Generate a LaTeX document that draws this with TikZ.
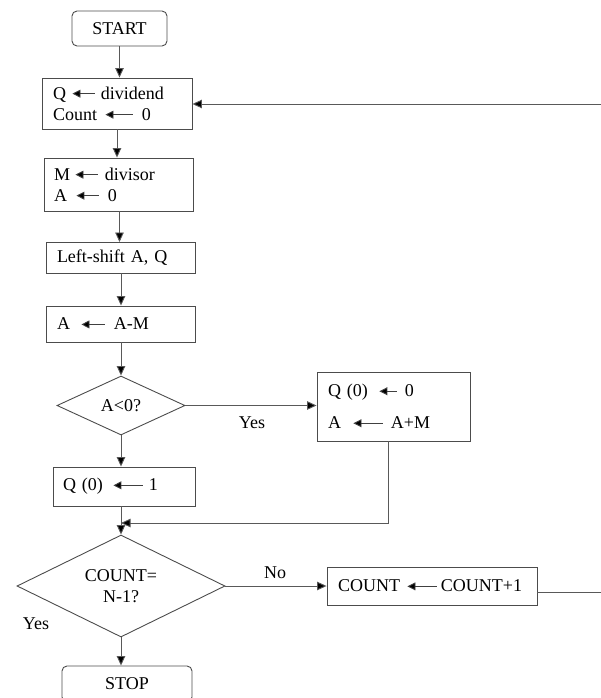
\documentclass[tikz,border=0pt]{standalone}
\usepackage{fontspec}
\setmainfont{Liberation Serif}
\usetikzlibrary{shapes.geometric,arrows.meta}
\newcommand\la[3]{\hspace*{#1pt}\tikz[baseline=-5.5pt]\draw[line width=0.9pt,draw=black!75,{Triangle[length=8pt,width=8pt,fill=black]}-](0pt,0pt)--(#2pt,0pt);\hspace*{#3pt}}
\begin{document}
\begin{tikzpicture}[x=1pt,y=-1pt,
  every node/.style={font=\fontsize{18}{21}\selectfont},
  box/.style={draw=black!70,line width=0.9pt,rectangle,align=left,inner ysep=0pt},
  term/.style={draw=black!70,line width=0.9pt,rectangle,rounded corners=5pt,inner sep=0pt},
  dia/.style={draw=black!70,line width=0.9pt,diamond,aspect=2,inner sep=0pt,align=center},
  conn/.style={draw=black!65,line width=0.9pt,-{Triangle[length=9.5pt,width=8.5pt,fill=black]}},
  plain/.style={draw=black!65,line width=0.9pt},
  lbl/.style={inner sep=0pt}]
\useasboundingbox (0,0) rectangle (601,698);
\clip (0,0) rectangle (601,698);

\node[term,minimum width=95pt,minimum height=35pt] (start) at (119.5,28.5) {START};
\node[box,inner xsep=11pt,text width=128pt,minimum height=51pt] (qbox) at (117,103.5)
  {Q\la{6}{23}{5}dividend\\Count\la{8}{28}{8}0};
\node[box,inner xsep=10pt,text width=129pt,minimum height=53pt] (mbox) at (118.5,184.5)
  {M\la{5}{23}{6}divisor\\A\la{9}{23}{8}0};
\node[box,inner xsep=11pt,text width=127pt,minimum height=31pt] (lshift) at (120.5,257.5)
  {Left-shift A, Q};
\node[box,inner xsep=11pt,text width=127pt,minimum height=36pt] (abox) at (120.5,324)
  {A\la{11}{24}{8}A-M};
\node[dia,minimum width=128pt,minimum height=59pt] (d1) at (121,405.5) {A<0?};
\node[box,inner xsep=11pt,text width=131pt,minimum height=69pt] (q0box) at (393.5,406.5)
  {Q (0)\la{11}{18}{7}0\\[11pt]A\la{12}{30}{7}A+M};
\node[box,inner xsep=10pt,text width=122pt,minimum height=39pt] (q1box) at (124,486.5)
  {Q (0)\la{10}{30}{5}1};
\node[dia,minimum width=208pt,minimum height=102pt] (d2) at (121,586) {COUNT=\\N-1?};
\node[box,inner xsep=11pt,text width=188pt,minimum height=38pt] (cbox) at (432,586)
  {COUNT\la{7}{30}{3}COUNT+1};
\node[term,minimum width=130pt,minimum height=36pt] (stop) at (127,684) {STOP};

\node[lbl] (yes1) at (252,423) {Yes};
\node[lbl] (no) at (275,573) {No};
\node[lbl] (yes2) at (36,624) {Yes};

\coordinate (r1) at (601,104);
\coordinate (r2) at (601,592);
\coordinate (j1) at (388,523);

\draw[conn] (start.south) -- (start.south |- qbox.north);
\draw[conn] (r1) -- (r1 -| qbox.east);
\draw[conn] (qbox.south) -- (qbox.south |- mbox.north);
\draw[conn] (119.5,211) -- (119.5,242);
\draw[conn] (lshift.south -| d1.north) -- (d1.north |- abox.north);
\draw[conn] (abox.south -| d1.north) -- (d1.north);
\draw[conn] (d1.south) -- (d1.south |- q1box.north);
\draw[conn] (d1.east) -- (d1.east -| q0box.west);
\draw[conn] (q0box.south -| j1) -- (j1) -- (j1 -| d2.north);
\draw[conn] (q1box.south -| d2.north) -- (d2.north);
\draw[conn] (d2.east) -- (d2.east -| cbox.west);
\draw[plain] (cbox.east |- r2) -- (r2);
\draw[conn] (d2.south) -- (d2.south |- stop.north);
\end{tikzpicture}
\end{document}
